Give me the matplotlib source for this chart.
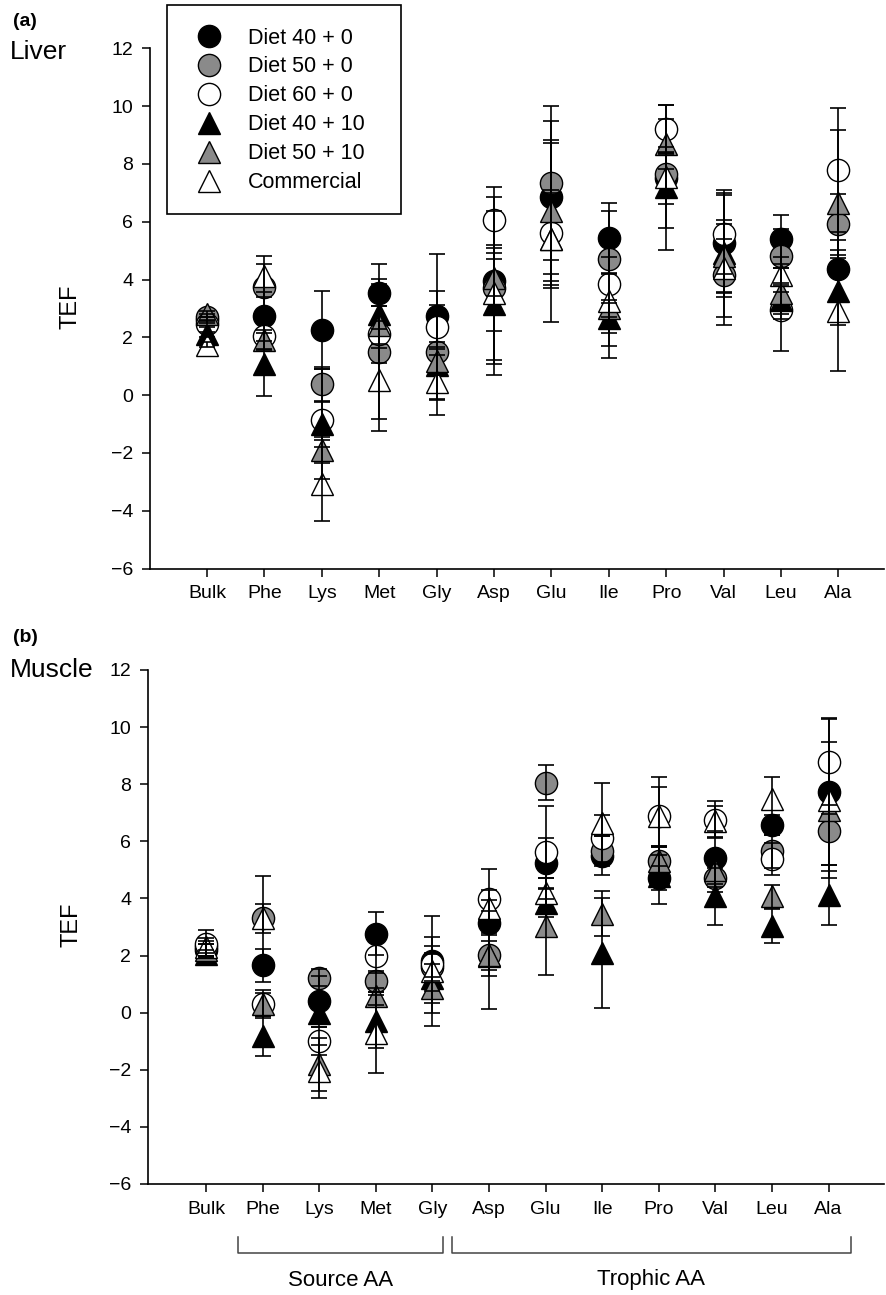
import matplotlib
matplotlib.use("Agg")
import matplotlib.pyplot as plt
from matplotlib.lines import Line2D
from matplotlib.patches import Rectangle
import matplotlib.transforms as mtransforms

plt.rcParams['font.family'] = ['Liberation Sans', 'DejaVu Sans']

# ---------------- data ----------------
categories = ["Bulk", "Phe", "Lys", "Met", "Gly", "Asp", "Glu", "Ile", "Pro", "Val", "Leu", "Ala"]
series_labels = ["Diet 40 + 0", "Diet 50 + 0", "Diet 60 + 0", "Diet 40 + 10", "Diet 50 + 10", "Commercial"]

# Liver (panel a)
liver_d40 = [2.6, 2.72, 2.26, 3.55, 2.72, 3.95, 6.84, 5.45, 7.5, 5.27, 5.39, 4.35]
liver_d50 = [2.7, 3.73, 0.37, 1.5, 1.48, 3.71, 7.34, 4.7, 7.65, 4.17, 4.81, 5.91]
liver_d60 = [2.45, 2.03, -0.87, 2.1, 2.37, 6.05, 5.62, 3.83, 9.22, 5.56, 2.95, 7.79]
liver_d40_10 = [2.1, 1.06, -0.99, 2.82, 1.05, 3.15, 5.4, 2.67, 7.19, 4.9, 3.3, 3.59]
liver_d50_10 = [2.8, 1.9, -1.91, 2.42, 1.18, 4.06, 6.38, 3.0, 8.7, 4.81, 3.53, 6.66]
liver_comm = [1.75, 4.12, -3.07, 0.52, 0.46, 3.54, 5.39, 3.25, 7.53, 4.41, 4.17, 2.92]

liver_d40_err = [0.1, 0.85, 1.35, 1.0, 0.88, 2.89, 2.64, 1.21, 0.9, 1.74, 0.85, 1.0]
liver_d50_err = [0.1, 0.82, 0.6, 2.33, 1.65, 1.5, 2.65, 0.5, 0.7, 1.76, 0.93, 1.05]
liver_d60_err = [0.1, 0.45, 0.68, 1.0, 2.52, 1.14, 3.1, 2.54, 0.83, 1.37, 1.44, 2.16]
liver_d40_10_err = [0.1, 1.08, 1.9, 1.2, 0.35, 1.93, 1.6, 0.52, 1.4, 2.2, 0.5, 1.15]
liver_d50_10_err = [0.1, 0.35, 0.45, 0.65, 0.5, 0.64, 2.43, 0.3, 0.86, 1.25, 0.88, 2.5]
liver_comm_err = [0.1, 0.71, 1.28, 1.75, 1.15, 2.84, 1.7, 1.54, 2.52, 1.0, 0.6, 2.09]

# Muscle (panel b)
musc_d40 = [2.2, 1.66, 0.4, 2.77, 1.8, 3.14, 5.24, 5.5, 4.72, 5.42, 6.58, 7.74]
musc_d50 = [2.3, 3.3, 1.22, 1.1, 1.6, 2.03, 8.06, 5.65, 5.32, 4.72, 5.65, 6.35]
musc_d60 = [2.4, 0.3, -0.99, 2.0, 1.7, 3.98, 5.61, 6.11, 6.87, 6.76, 5.38, 8.79]
musc_d40_10 = [2.05, -0.82, 0.0, -0.3, 1.2, 2.0, 3.84, 2.09, 4.8, 4.07, 3.03, 4.13]
musc_d50_10 = [2.2, 0.3, -1.81, 0.58, 0.85, 2.03, 3.03, 3.47, 5.3, 5.0, 4.07, 7.1]
musc_comm = [2.3, 3.3, -2.05, -0.71, 1.45, 3.67, 4.19, 6.64, 6.9, 6.7, 7.48, 7.45]

musc_d40_err = [0.2, 0.58, 0.9, 0.74, 0.55, 0.41, 0.87, 0.67, 0.41, 0.93, 0.35, 2.56]
musc_d50_err = [0.2, 0.5, 0.3, 0.36, 0.5, 0.75, 0.62, 0.53, 0.5, 0.5, 0.58, 1.4]
musc_d60_err = [0.5, 0.5, 0.5, 0.6, 0.95, 1.05, 1.64, 0.82, 1.05, 0.64, 0.55, 1.52]
musc_d40_10_err = [0.15, 0.7, 0.3, 0.93, 0.85, 0.5, 0.5, 1.92, 0.99, 0.99, 0.59, 1.05]
musc_d50_10_err = [0.2, 0.4, 0.93, 0.3, 0.85, 1.9, 1.7, 0.8, 0.5, 0.6, 0.4, 2.39]
musc_comm_err = [0.3, 1.5, 0.93, 1.42, 1.92, 0.61, 0.53, 1.4, 1.37, 0.55, 0.77, 0.5]

yticks = [-6, -4, -2, 0, 2, 4, 6, 8, 10, 12]
group_labels = ["Source AA", "Trophic AA"]

# ---------------- styling ----------------
GRAY = "#8a8a8a"
markers = ["o", "o", "o", "^", "^", "^"]
faces = ["black", GRAY, "white", "black", GRAY, "white"]
MS = 16

W, H = 887, 1295
fig = plt.figure(figsize=(W / 100, H / 100), dpi=100)

def fx(px):
    return px / W

def fy(py):
    return 1 - py / H

ax_a = fig.add_axes([fx(150), fy(568.5), (884 - 150) / W, (568.5 - 48.3) / H])
ax_b = fig.add_axes([fx(148), fy(1184), (884 - 148) / W, (1184 - 670) / H])

liver_means = [liver_d40, liver_d50, liver_d60, liver_d40_10, liver_d50_10, liver_comm]
liver_errs = [liver_d40_err, liver_d50_err, liver_d60_err, liver_d40_10_err, liver_d50_10_err, liver_comm_err]
musc_means = [musc_d40, musc_d50, musc_d60, musc_d40_10, musc_d50_10, musc_comm]
musc_errs = [musc_d40_err, musc_d50_err, musc_d60_err, musc_d40_10_err, musc_d50_10_err, musc_comm_err]

x = list(range(len(categories)))

def draw(ax, means, errs, xlim):
    for m, f, vals, lab in zip(markers, faces, means, series_labels):
        ax.plot(x, vals, linestyle="none", marker=m, ms=MS, mfc=f, mec="black",
                mew=1.0, zorder=2, label=lab)
    for vals, e in zip(means, errs):
        ax.errorbar(x, vals, yerr=e, fmt="none", ecolor="black", elinewidth=1.2,
                    capsize=6, capthick=1.2, zorder=3)
    ax.set_xlim(*xlim)
    ax.set_ylim(-6, 12)
    ax.set_yticks(yticks)
    ax.set_yticklabels([("\u2212" + str(abs(t))) if t < 0 else str(t) for t in yticks])
    ax.set_xticks(x)
    ax.set_xticklabels(categories)
    for s in ["top", "right"]:
        ax.spines[s].set_visible(False)
    for s in ["left", "bottom"]:
        ax.spines[s].set_linewidth(1.2)
    ax.tick_params(axis="both", direction="out", length=6, width=1.1,
                   labelsize=14, pad=6)
    ax.set_ylabel("TEF", fontsize=17)

draw(ax_a, liver_means, liver_errs, (-0.993, (884 - 207) / 57.4))
draw(ax_b, musc_means, musc_errs, (-(206 - 148) / 56.6, (884 - 206) / 56.6))

ax_a.yaxis.set_label_coords((82 - 150) / 734, (568.5 - 307) / 520.2)
ax_b.yaxis.set_label_coords((82 - 148) / 736, (1184 - 925) / 514)

# legend (entries without frame; frame drawn as a separate box)
handles = [Line2D([], [], linestyle="none", marker=m, ms=MS, mfc=f, mec="black", mew=1.0)
           for m, f in zip(markers, faces)]
leg = fig.legend(handles, series_labels, loc="upper left",
                 bbox_to_anchor=(fx(198), fy(27.5)), fontsize=15.5, frameon=False,
                 borderpad=0.0, labelspacing=0.37, handletextpad=1.33,
                 handlelength=1.0, borderaxespad=0.0)
fig.add_artist(Rectangle((fx(167), fy(214)), (401 - 167) / W, (214 - 5) / H,
                         transform=fig.transFigure, fill=False, edgecolor="black",
                         lw=1.2))

# panel titles
fig.text(fx(13), fy(22), "(a)", fontsize=14, fontweight="bold", ha="left", va="center")
fig.text(fx(10), fy(52), "Liver", fontsize=19, ha="left", va="center")
fig.text(fx(13), fy(637), "(b)", fontsize=14, fontweight="bold", ha="left", va="center")
fig.text(fx(10), fy(670), "Muscle", fontsize=19, ha="left", va="center")

# group brackets under panel b
trans = mtransforms.blended_transform_factory(ax_b.transData, ax_b.transAxes)
y_top = (1184 - 1237) / 514
y_bot = (1184 - 1253) / 514
y_txt = (1184 - 1280) / 514
brackets = [(0.57, 4.19), (4.34, 11.39)]
for (x0, x1), lab in zip(brackets, group_labels):
    ax_b.plot([x0, x0, x1, x1], [y_top, y_bot, y_bot, y_top], color="#444444",
              lw=1.1, transform=trans, clip_on=False)
    ax_b.text((x0 + x1) / 2, y_txt, lab, transform=trans, ha="center", va="center",
              fontsize=16)

fig.savefig("out.png", dpi=100)
